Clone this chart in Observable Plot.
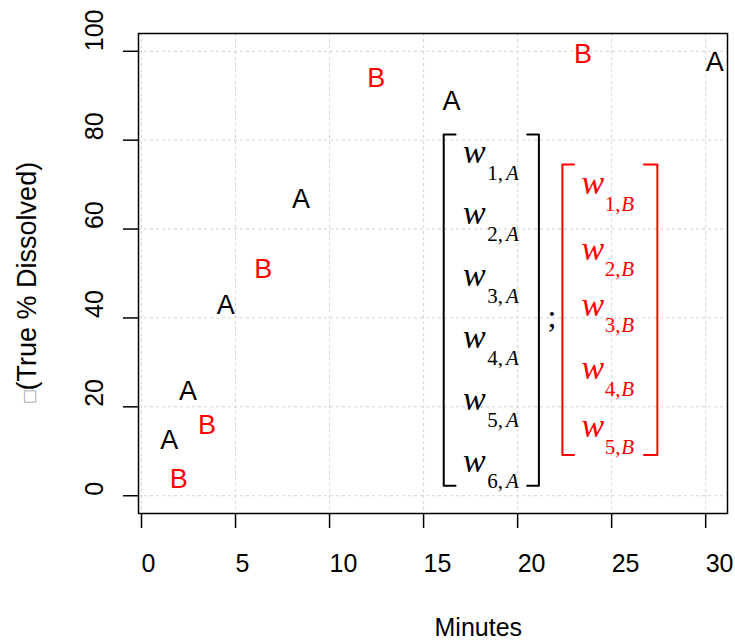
<!DOCTYPE html>
<html><head><meta charset="utf-8">
<script src="https://cdn.jsdelivr.net/npm/d3@7"></script>
<script src="https://cdn.jsdelivr.net/npm/@observablehq/plot@0.6"></script>
<style>body{margin:0;background:#fff}</style>
</head><body><div id="chart"></div>
<script>
// ---- data ----
const minutesA = [1, 2, 4, 8, 16, 30];
const dissolvedA = [12.4, 23.5, 42.8, 66.7, 88.8, 97.5];
const minutesB = [1.5, 3, 6, 12, 23];
const dissolvedB = [3.6, 15.8, 50.9, 93.8, 99.3];
const xTicks = [0, 5, 10, 15, 20, 25, 30];
const yTicks = [0, 20, 40, 60, 80, 100];
const weightRowsA = ["1", "2", "3", "4", "5", "6"];
const weightRowsB = ["1", "2", "3", "4", "5"];
const xLabel = "Minutes";
const yLabel = "\u25A1(True % Dissolved)";

// ---- annotation layout (data units) ----
const rowYA = [77.3, 63.5, 49.6, 35.7, 21.8, 7.9];
const rowYB = [70.4, 55.6, 43.0, 28.7, 15.7];
const matA = {w: 17.1, sub: 18.38, subEnd: 20.07, bl: 16.07, bls: 16.70, br: 21.13, brs: 20.51, top: 81.3, bot: 2.23, color: "black", letter: "A"};
const matB = {w: 23.4, sub: 24.63, subEnd: 26.19, bl: 22.38, bls: 23.0, br: 27.43, brs: 26.72, top: 74.5, bot: 9.15, color: "#FF0000", letter: "B"};
const semi = {x: 21.83, y: 40.26};

const pointsA = minutesA.map((m, i) => ({minutes: m, dissolved: dissolvedA[i]}));
const pointsB = minutesB.map((m, i) => ({minutes: m, dissolved: dissolvedB[i]}));
const entries = (rows, ys, M) => rows.map((r, i) => ({row: r, y: ys[i], M}));
const entA = entries(weightRowsA, rowYA, matA);
const entB = entries(weightRowsB, rowYB, matB);
const bracket = (M, id) => [
  {id: id + "L", x: M.bls, y: M.top}, {id: id + "L", x: M.bl, y: M.top}, {id: id + "L", x: M.bl, y: M.bot}, {id: id + "L", x: M.bls, y: M.bot},
  {id: id + "R", x: M.brs, y: M.top}, {id: id + "R", x: M.br, y: M.top}, {id: id + "R", x: M.br, y: M.bot}, {id: id + "R", x: M.brs, y: M.bot}
];

const serif = "Liberation Serif, Times New Roman, serif";
const matrixMarks = (ent, M, id) => [
  Plot.line(bracket(M, id), {x: "x", y: "y", z: "id", stroke: M.color, strokeWidth: 2}),
  Plot.text(ent, {x: () => M.w, y: "y", text: () => "w", fontFamily: serif, fontStyle: "italic", fontSize: 34, textAnchor: "start", fill: M.color}),
  Plot.text(ent, {x: () => M.sub, y: "y", text: d => d.row + ",", fontFamily: serif, fontSize: 21, textAnchor: "start", dy: 21, fill: M.color}),
  Plot.text(ent, {x: () => M.subEnd, y: "y", text: () => M.letter, fontFamily: serif, fontStyle: "italic", fontSize: 21, textAnchor: "end", dy: 21, fill: M.color})
];

const chart = Plot.plot({
  width: 735, height: 641,
  marginLeft: 138, marginRight: 8, marginTop: 33, marginBottom: 128,
  style: {fontFamily: "Liberation Sans, Arial, sans-serif", fontSize: "25px", background: "white", color: "black"},
  x: {domain: [-0.16, 31.16]},
  y: {domain: [-4, 104]},
  marks: [
    Plot.gridX(xTicks, {stroke: "#d3d3d3", strokeOpacity: 1, strokeDasharray: "3,3"}),
    Plot.gridY(yTicks, {stroke: "#d3d3d3", strokeOpacity: 1, strokeDasharray: "3,3"}),
    Plot.frame({stroke: "black", strokeWidth: 1.5}),
    Plot.axisX(xTicks, {tickSize: 15, tickPadding: 26, textAnchor: "start", fontSize: 25, label: null, strokeWidth: 1.5}),
    Plot.axisY(yTicks, {tickSize: 15, tickPadding: 28.6, tickRotate: -90, textAnchor: "start", lineAnchor: "middle", fontSize: 25, label: null, strokeWidth: 1.5}),
    Plot.text([xLabel], {frameAnchor: "bottom", text: d => d, textAnchor: "start", lineAnchor: "middle", dx: 1.5, dy: 114, fontSize: 25}),
    Plot.text([yLabel], {frameAnchor: "left", text: d => d, rotate: -90, textAnchor: "start", lineAnchor: "middle", dx: -111, dy: 129, fontSize: 27}),
    Plot.text(pointsA, {x: "minutes", y: "dissolved", text: () => "A", textAnchor: "start", fontSize: 27, fill: "black"}),
    Plot.text(pointsB, {x: "minutes", y: "dissolved", text: () => "B", textAnchor: "start", fontSize: 27, fill: "#FF0000"}),
    ...matrixMarks(entA, matA, "A"),
    ...matrixMarks(entB, matB, "B"),
    Plot.text([";"], {x: () => semi.x, y: () => semi.y, text: d => d, fontFamily: serif, fontSize: 32, fill: "black"})
  ]
});
document.getElementById("chart").appendChild(chart);

// style the missing-glyph box in the y label
d3.select(chart).selectAll("text").filter(function () { return this.textContent === yLabel; }).each(function () {
  const el = d3.select(this);
  el.text(null);
  el.append("tspan").attr("fill", "#999").attr("font-size", "20px").text(yLabel.slice(0, 1));
  el.append("tspan").text(yLabel.slice(1));
});
</script>
</body></html>
